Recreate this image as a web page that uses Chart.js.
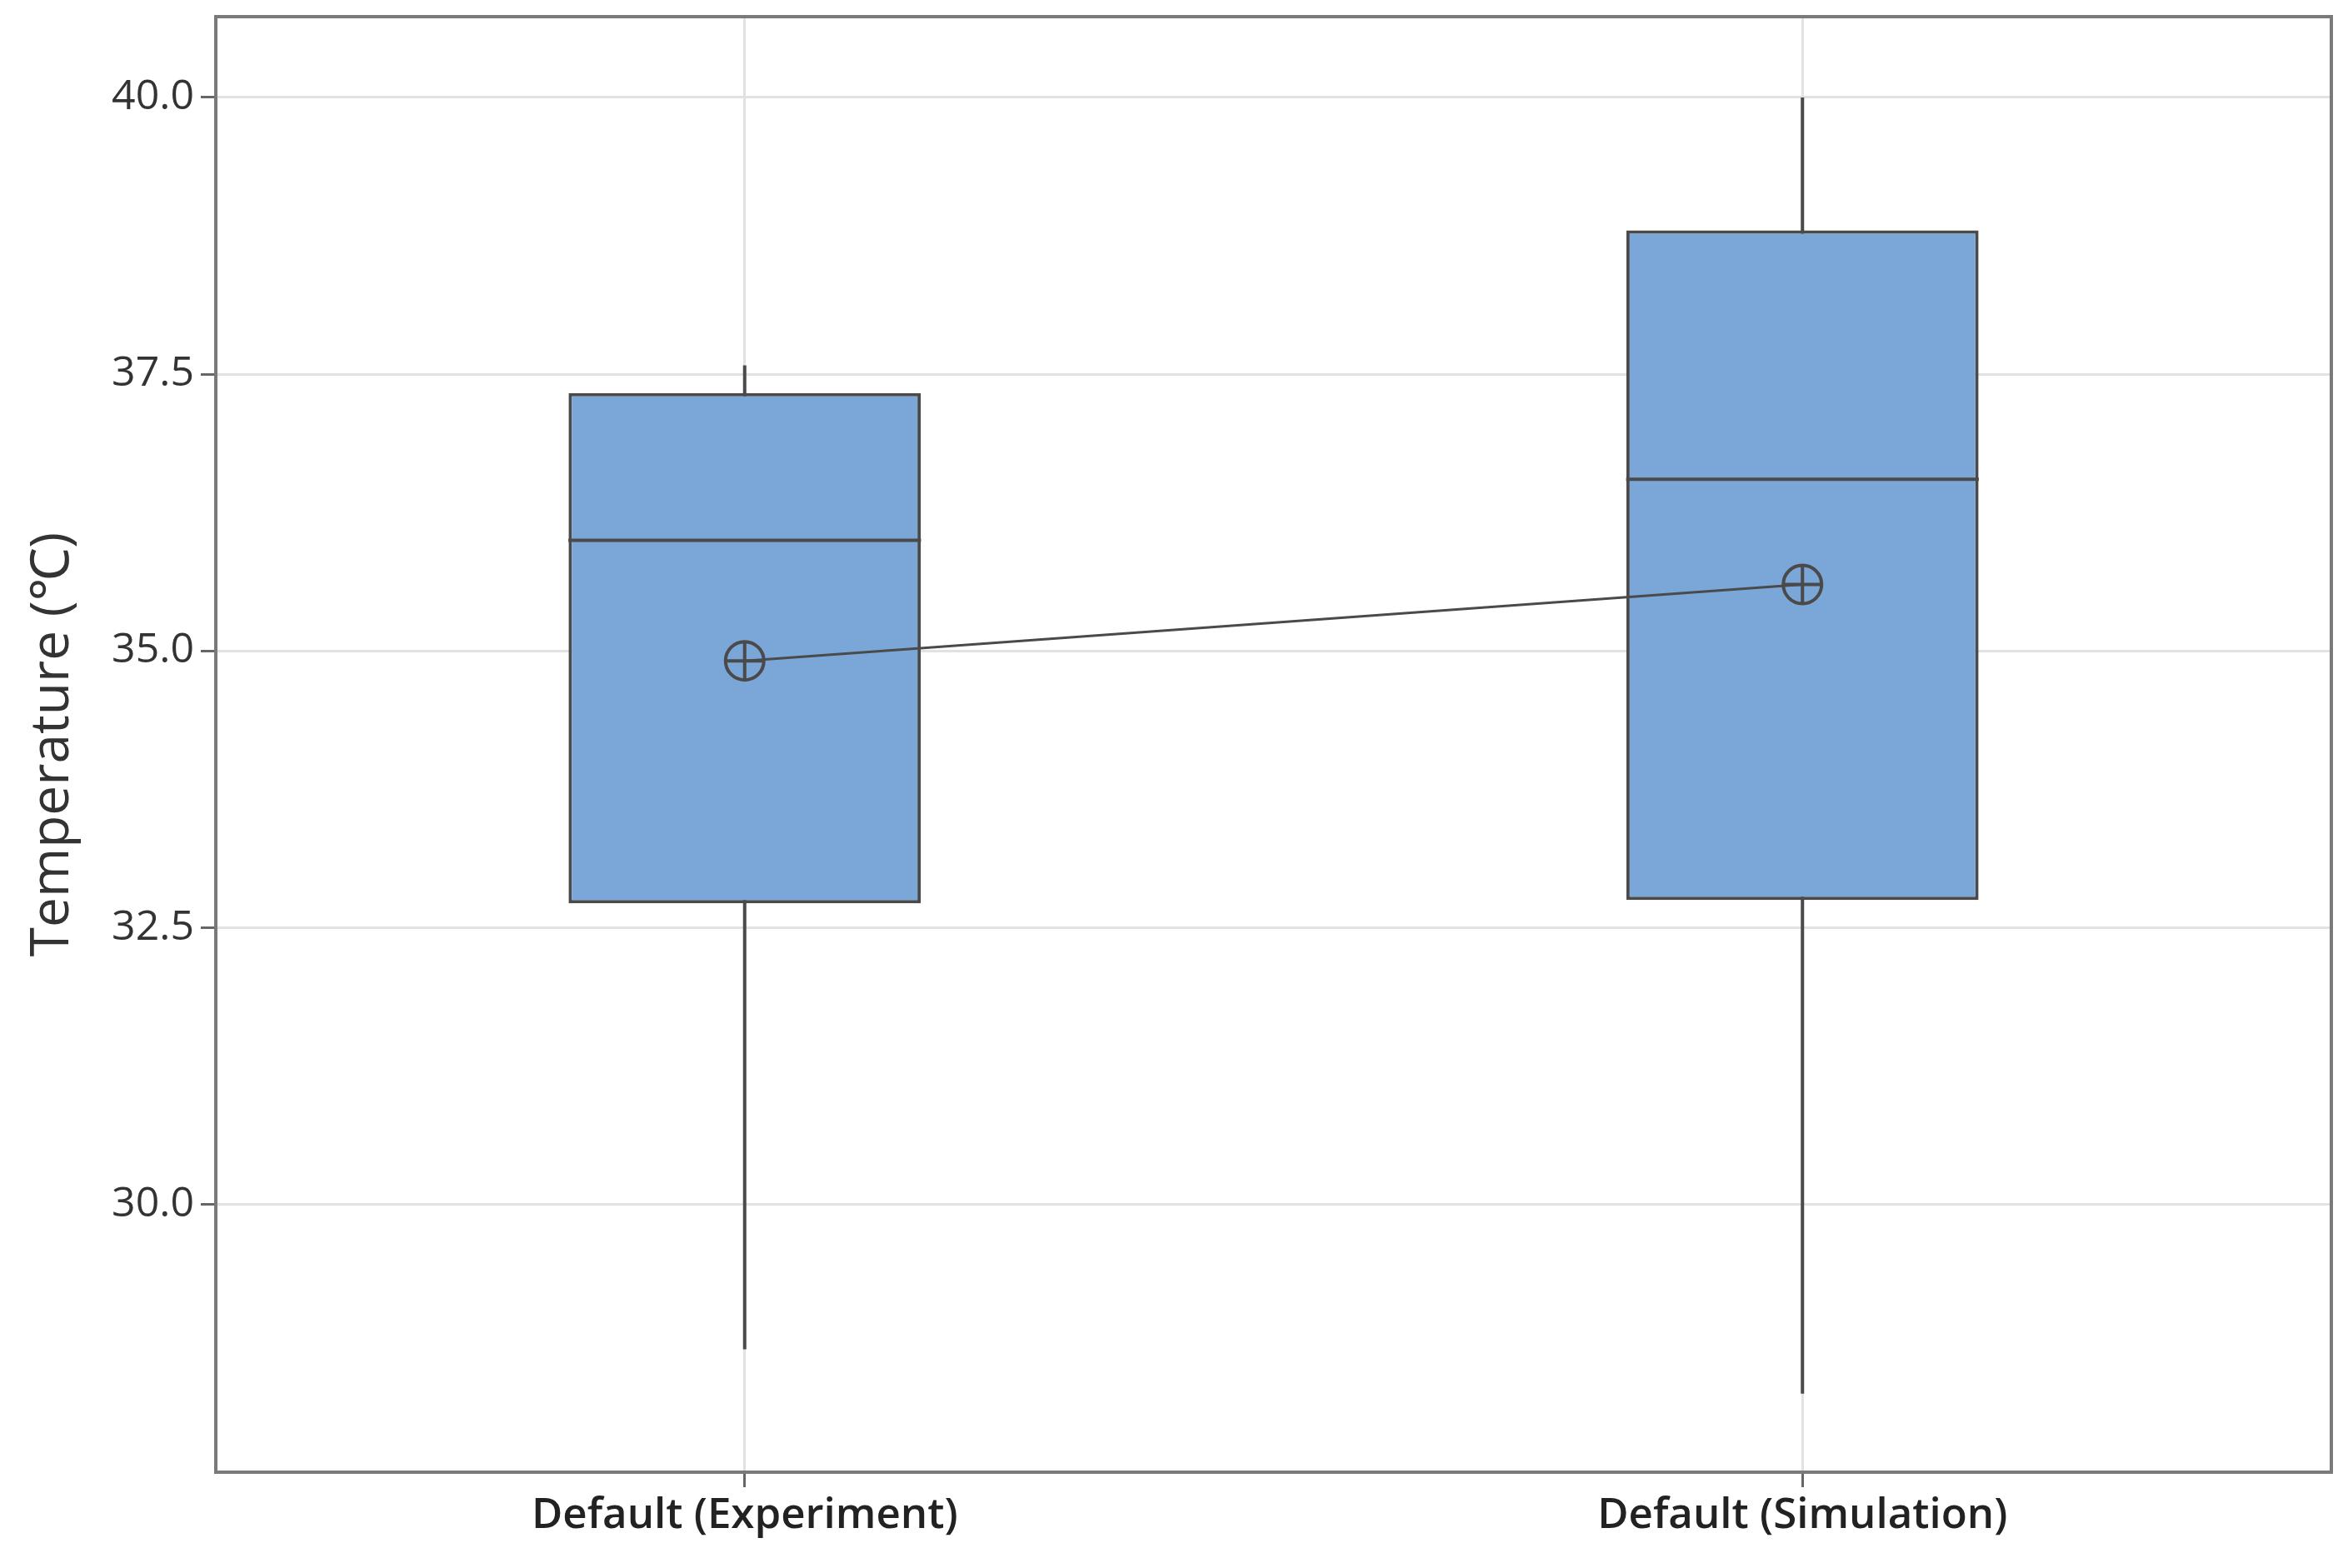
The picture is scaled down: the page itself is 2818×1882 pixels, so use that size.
<!DOCTYPE html>
<html>
<head>
<meta charset="utf-8">
<script src="https://cdn.jsdelivr.net/npm/chart.js@4"></script>
<style>
html, body { margin: 0; padding: 0; background: #fff; }
#wrap { width: 2818px; height: 1882px; }
</style>
</head>
<body>
<div id="wrap"><canvas id="myChart" width="2818" height="1882"></canvas></div>
<script>
// values
const groups = ["Default (Experiment)", "Default (Simulation)"];
const whiskerLow = [28.69, 28.29];
const q1 = [32.72, 32.75];
const median = [36.0, 36.55];
const q3 = [37.33, 38.80];
const whiskerHigh = [37.58, 40.0];
const means = [34.91, 35.60];
const yTicks = [30.0, 32.5, 35.0, 37.5, 40.0];

const boxHalf = 0.1667; // half box width in x2 units (one category = 1)
const dark = '#4a4a4a';

// whiskers and medians go on a hidden linear axis that lines up with the categories
let whiskerPts = [];
let medianPts = [];
let meanPts = [];
for (let i = 0; i < groups.length; i++) {
    whiskerPts.push({ x: i + 0.5, y: whiskerLow[i] }, { x: i + 0.5, y: whiskerHigh[i] }, { x: i + 1, y: null });
    medianPts.push({ x: i + 0.5 - boxHalf, y: median[i] }, { x: i + 0.5 + boxHalf, y: median[i] }, { x: i + 1, y: null });
    meanPts.push({ x: i + 0.5, y: means[i] });
}

const framePlugin = {
    id: 'frame',
    afterDraw(chart) {
        const a = chart.chartArea;
        const ctx = chart.ctx;
        ctx.save();
        ctx.strokeStyle = '#7a7a7a';
        ctx.lineWidth = 4;
        ctx.strokeRect(a.left, a.top, a.right - a.left, a.bottom - a.top);
        ctx.restore();
    }
};

Chart.defaults.font.family = "'Open Sans', 'Noto Sans', sans-serif";
Chart.defaults.color = '#333';

var ctx = document.getElementById('myChart').getContext('2d');
var myChart = new Chart(ctx, {
    type: 'bar',
    data: {
        labels: groups,
        datasets: [{
            type: 'line',
            xAxisID: 'x2',
            data: whiskerPts,
            borderColor: dark,
            borderWidth: 4,
            pointRadius: 0,
            spanGaps: false,
            order: 3
        }, {
            type: 'bar',
            data: groups.map((g, i) => [q1[i], q3[i]]),
            backgroundColor: '#7BA6D8',
            borderColor: dark,
            borderWidth: 4,
            borderSkipped: false,
            grouped: false,
            barPercentage: 1,
            categoryPercentage: 0.333,
            order: 2
        }, {
            type: 'line',
            xAxisID: 'x2',
            data: medianPts,
            borderColor: dark,
            borderWidth: 4,
            pointRadius: 0,
            spanGaps: false,
            order: 1
        }, {
            type: 'line',
            xAxisID: 'x2',
            data: meanPts,
            borderColor: dark,
            borderWidth: 3,
            pointStyle: 'circle',
            pointRadius: 23,
            pointBorderWidth: 4,
            pointBorderColor: dark,
            pointBackgroundColor: 'rgba(0,0,0,0)',
            order: 0
        }, {
            type: 'line',
            xAxisID: 'x2',
            data: meanPts,
            showLine: false,
            pointStyle: 'cross',
            pointRadius: 23,
            pointBorderWidth: 4,
            pointBorderColor: dark,
            order: 0
        }]
    },
    options: {
        responsive: false,
        animation: false,
        layout: { autoPadding: false, padding: { top: 20, right: 20, left: 0, bottom: 0 } },
        plugins: {
            legend: { display: false },
            tooltip: { enabled: false }
        },
        scales: {
            x: {
                type: 'category',
                offset: true,
                grid: { offset: false, color: '#e2e2e2', lineWidth: 3, tickColor: '#666', tickLength: 18 },
                border: { color: '#7a7a7a', width: 4 },
                ticks: { font: { size: 51, weight: '600' }, color: '#222', padding: 4, maxRotation: 0 },
                afterFit: (scale) => {
                    scale.height = 115;
                    scale.paddingLeft = 0;
                    scale.paddingRight = 0;
                }
            },
            x2: {
                type: 'linear',
                display: false,
                offset: false,
                grid: { offset: false },
                min: 0,
                max: groups.length
            },
            y: {
                min: 27.58,
                max: 40.73,
                grid: { color: '#e2e2e2', lineWidth: 3, tickColor: '#666', tickLength: 18 },
                border: { color: '#7a7a7a', width: 4 },
                ticks: {
                    font: { size: 50 },
                    color: '#333',
                    padding: 8,
                    callback: (v) => v.toFixed(1)
                },
                afterBuildTicks: (axis) => { axis.ticks = yTicks.map(v => ({ value: v })); },
                title: {
                    display: true,
                    text: 'Temperature (℃)',
                    font: { size: 64 },
                    color: '#333',
                    padding: { top: 25, bottom: 0 }
                },
                afterFit: (scale) => {
                    scale.width = 259;
                    scale.paddingTop = 0;
                    scale.paddingBottom = 0;
                }
            }
        }
    },
    plugins: [framePlugin]
});
</script>
</body>
</html>
